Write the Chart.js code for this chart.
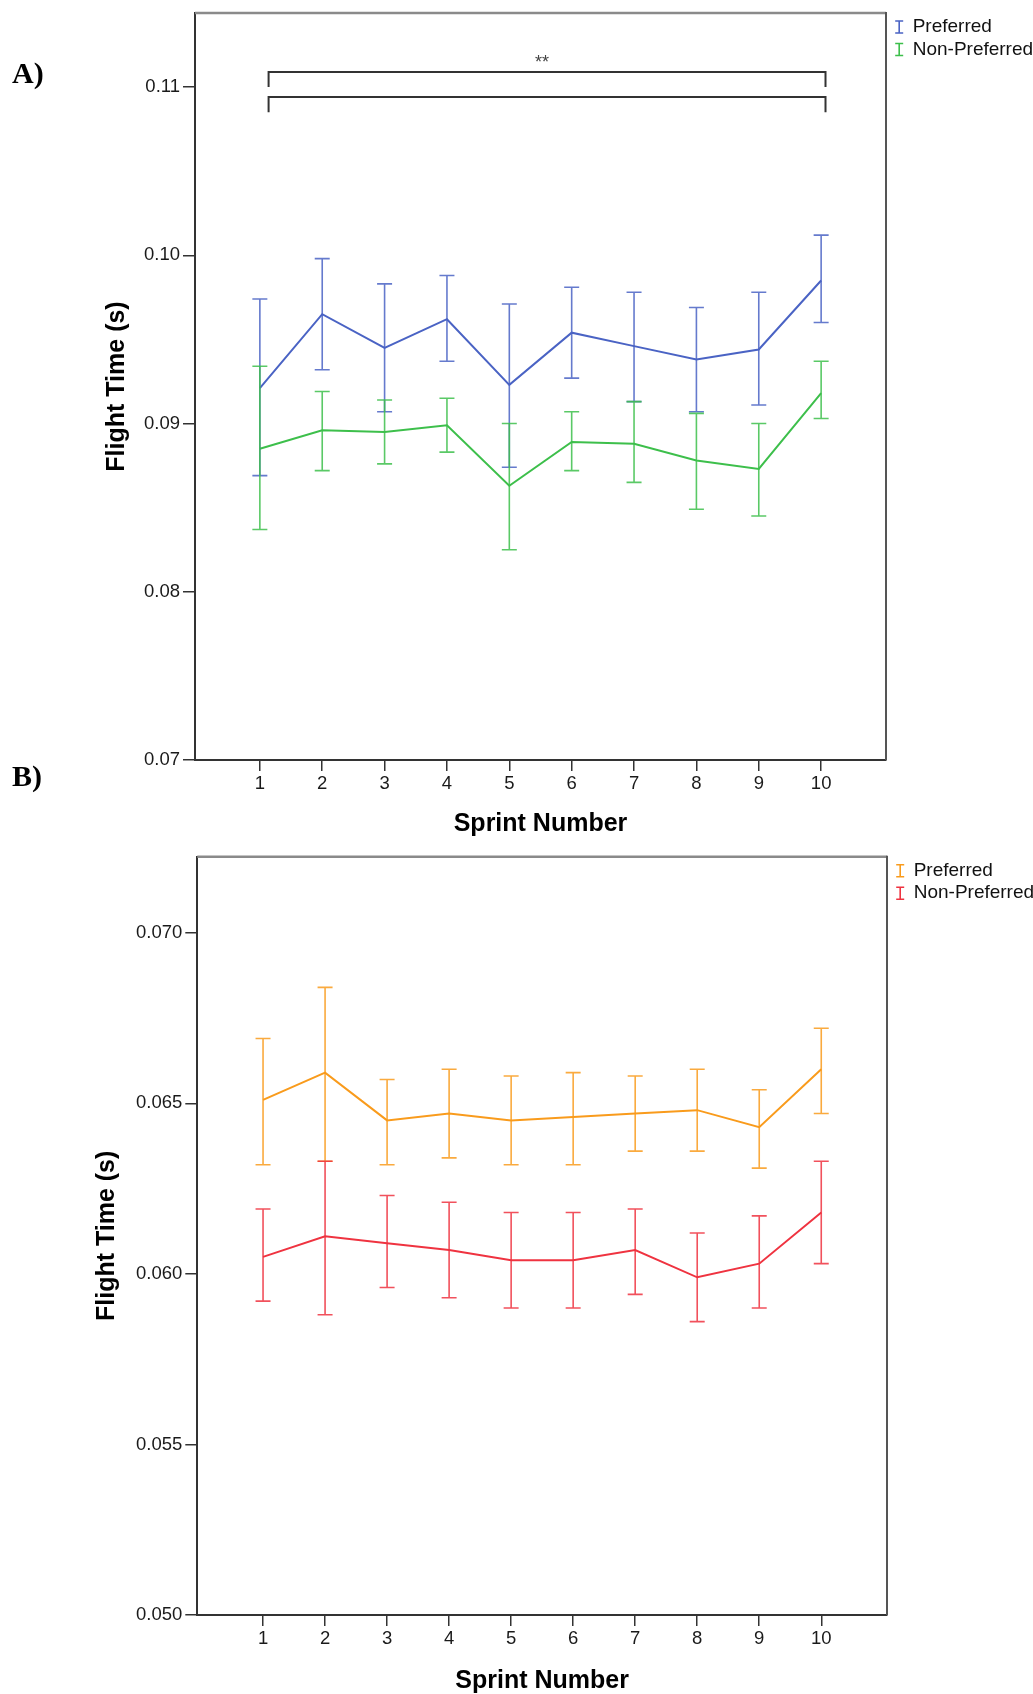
<!DOCTYPE html>
<html>
<head>
<meta charset="utf-8">
<script src="https://cdn.jsdelivr.net/npm/chart.js@4.4.1/dist/chart.umd.min.js"></script>
<style>
  body { margin: 0; background: #fff; }
  #page { position: relative; width: 1033px; height: 1694px; }
  canvas { position: absolute; left: 0; }
  #chartA { top: 0; }
  #chartB { top: 840px; }
  .panel { position: absolute; left: 12px; font: bold 30px "Liberation Serif", "Times New Roman", serif; line-height: 30px; color: #000; }
</style>
</head>
<body>
<div id="page">
  <canvas id="chartA" width="1033" height="840"></canvas>
  <canvas id="chartB" width="1033" height="854"></canvas>
  <div class="panel" style="top:58px">A)</div>
  <div class="panel" style="top:761px">B)</div>
</div>
<script>
// sprint numbers (x axis)
var sprints = [1, 2, 3, 4, 5, 6, 7, 8, 9, 10];

// panel A - flight time, means and error bar ends
var prefA   = [0.0921, 0.0965, 0.0945, 0.0962, 0.0923, 0.0954, 0.0946, 0.0938, 0.0944, 0.0985];
var prefAHi = [0.0974, 0.0998, 0.0983, 0.0988, 0.0971, 0.0981, 0.0978, 0.0969, 0.0978, 0.1012];
var prefALo = [0.0869, 0.0932, 0.0907, 0.0937, 0.0874, 0.0927, 0.0913, 0.0907, 0.0911, 0.0960];
var nonA    = [0.0885, 0.0896, 0.0895, 0.0899, 0.0863, 0.0889, 0.0888, 0.0878, 0.0873, 0.0918];
var nonAHi  = [0.0934, 0.0919, 0.0914, 0.0915, 0.0900, 0.0907, 0.0913, 0.0906, 0.0900, 0.0937];
var nonALo  = [0.0837, 0.0872, 0.0876, 0.0883, 0.0825, 0.0872, 0.0865, 0.0849, 0.0845, 0.0903];
var yTicksA = [0.07, 0.08, 0.09, 0.10, 0.11];
var yTickLabelsA = ['0.07', '0.08', '0.09', '0.10', '0.11'];

// significance brackets in panel A (data units)
var bracketSpan = [1.14, 10.07];
var bracketLevels = [0.1109, 0.1094];
var bracketDrop = 0.0009;
var sigLabel = '**';

// panel B
var prefB   = [0.0651, 0.0659, 0.0645, 0.0647, 0.0645, 0.0646, 0.0647, 0.0648, 0.0643, 0.0660];
var prefBHi = [0.0669, 0.0684, 0.0657, 0.0660, 0.0658, 0.0659, 0.0658, 0.0660, 0.0654, 0.0672];
var prefBLo = [0.0632, 0.0633, 0.0632, 0.0634, 0.0632, 0.0632, 0.0636, 0.0636, 0.0631, 0.0647];
var nonB    = [0.0605, 0.0611, 0.0609, 0.0607, 0.0604, 0.0604, 0.0607, 0.0599, 0.0603, 0.0618];
var nonBHi  = [0.0619, 0.0633, 0.0623, 0.0621, 0.0618, 0.0618, 0.0619, 0.0612, 0.0617, 0.0633];
var nonBLo  = [0.0592, 0.0588, 0.0596, 0.0593, 0.0590, 0.0590, 0.0594, 0.0586, 0.0590, 0.0603];
var yTicksB = [0.050, 0.055, 0.060, 0.065, 0.070];
var yTickLabelsB = ['0.050', '0.055', '0.060', '0.065', '0.070'];

Chart.defaults.font.family = '"Liberation Sans", Arial, sans-serif';
Chart.defaults.color = '#1a1a1a';

function points(vals) {
    return sprints.map(function(s, i) { return {x: s, y: vals[i]}; });
}

function series(label, color, vals, lo, hi) {
    return {
        label: label,
        data: points(vals),
        lo: lo,
        hi: hi,
        borderColor: color,
        backgroundColor: color,
        borderWidth: 2,
        pointRadius: 0,
        tension: 0,
        fill: false
    };
}

// error bars with caps
var errorBars = {
    id: 'errorBars',
    afterDatasetsDraw: function(chart) {
        var ctx = chart.ctx, x = chart.scales.x, y = chart.scales.y;
        chart.data.datasets.forEach(function(ds) {
            ctx.save();
            ctx.strokeStyle = ds.borderColor;
            ctx.globalAlpha = 0.85;
            ctx.lineWidth = 1.6;
            ds.data.forEach(function(p, i) {
                var px = x.getPixelForValue(p.x);
                var t = y.getPixelForValue(ds.hi[i]);
                var b = y.getPixelForValue(ds.lo[i]);
                ctx.beginPath();
                ctx.moveTo(px, t); ctx.lineTo(px, b);
                ctx.moveTo(px - 7.5, t); ctx.lineTo(px + 7.5, t);
                ctx.moveTo(px - 7.5, b); ctx.lineTo(px + 7.5, b);
                ctx.stroke();
            });
            ctx.restore();
        });
    }
};

// top/right frame and legend at the right side
var frameLegend = {
    id: 'frameLegend',
    afterDraw: function(chart) {
        var ctx = chart.ctx, a = chart.chartArea;
        ctx.save();
        ctx.strokeStyle = '#8a8a8a';
        ctx.lineWidth = 2.5;
        ctx.beginPath();
        ctx.moveTo(a.left, a.top); ctx.lineTo(a.right, a.top);
        ctx.stroke();
        ctx.strokeStyle = '#555';
        ctx.lineWidth = 2;
        ctx.beginPath();
        ctx.moveTo(a.right, a.top - 1); ctx.lineTo(a.right, a.bottom);
        ctx.stroke();

        ctx.font = '19px "Liberation Sans", Arial, sans-serif';
        ctx.textBaseline = 'middle';
        chart.data.datasets.forEach(function(ds, i) {
            var ry = a.top + 14 + i * 22.5;
            var mx = a.right + 13.2;
            ctx.strokeStyle = ds.borderColor;
            ctx.lineWidth = 1.6;
            ctx.beginPath();
            ctx.moveTo(mx, ry - 6); ctx.lineTo(mx, ry + 6);
            ctx.moveTo(mx - 4, ry - 6); ctx.lineTo(mx + 4, ry - 6);
            ctx.moveTo(mx - 4, ry + 6); ctx.lineTo(mx + 4, ry + 6);
            ctx.stroke();
            ctx.fillStyle = '#111';
            ctx.fillText(ds.label, a.right + 26.7, ry);
        });
        ctx.restore();
    }
};

// significance brackets (only panel A)
var brackets = {
    id: 'brackets',
    afterDraw: function(chart, args, opts) {
        if (!opts.levels) return;
        var ctx = chart.ctx, x = chart.scales.x, y = chart.scales.y;
        var x1 = x.getPixelForValue(opts.span[0]);
        var x2 = x.getPixelForValue(opts.span[1]);
        ctx.save();
        ctx.strokeStyle = '#333';
        ctx.lineWidth = 2;
        opts.levels.forEach(function(lv) {
            var yt = y.getPixelForValue(lv);
            var yb = y.getPixelForValue(lv - opts.drop);
            ctx.beginPath();
            ctx.moveTo(x1, yb); ctx.lineTo(x1, yt); ctx.lineTo(x2, yt); ctx.lineTo(x2, yb);
            ctx.stroke();
        });
        ctx.fillStyle = '#444';
        ctx.font = '18px "Liberation Sans", Arial, sans-serif';
        ctx.textAlign = 'center';
        ctx.textBaseline = 'middle';
        ctx.fillText(opts.label, (x1 + x2) / 2 - 5, y.getPixelForValue(opts.levels[0]) - 9);
        ctx.restore();
    }
};

function makeChart(id, datasets, cfg) {
    return new Chart(document.getElementById(id), {
        type: 'line',
        data: {datasets: datasets},
        plugins: [errorBars, frameLegend, brackets],
        options: {
            responsive: false,
            animation: false,
            devicePixelRatio: 1,
            layout: {padding: {left: 0, top: cfg.top, right: cfg.right, bottom: 0}},
            plugins: {
                legend: {display: false},
                tooltip: {enabled: false},
                brackets: cfg.brackets || {}
            },
            scales: {
                x: {
                    type: 'linear',
                    min: cfg.xMin,
                    max: cfg.xMax,
                    afterBuildTicks: function(s) {
                        s.ticks = sprints.map(function(v) { return {value: v}; });
                    },
                    afterFit: function(s) {
                        s.height = cfg.xHeight;
                        s.paddingLeft = 0;
                        s.paddingRight = 0;
                    },
                    ticks: {
                        autoSkip: false,
                        maxRotation: 0,
                        padding: 2,
                        font: {size: 18.5},
                        callback: function(v) { return String(v); }
                    },
                    grid: {drawOnChartArea: false, drawTicks: true, tickLength: 11, color: '#333', lineWidth: 1.5},
                    border: {display: true, color: '#333', width: 2},
                    title: {
                        display: true,
                        text: 'Sprint Number',
                        color: '#000',
                        font: {size: 25, weight: 'bold', lineHeight: 1},
                        padding: {top: 0, bottom: cfg.xTitlePad}
                    }
                },
                y: {
                    type: 'linear',
                    min: cfg.yMin,
                    max: cfg.yMax,
                    afterBuildTicks: function(s) {
                        s.ticks = cfg.yTicks.map(function(v) { return {value: v}; });
                    },
                    afterFit: function(s) {
                        s.width = cfg.yWidth;
                        s.paddingTop = 0;
                        s.paddingBottom = 0;
                    },
                    ticks: {
                        padding: 3,
                        font: {size: 18.5},
                        callback: function(v, i) { return cfg.yLabels[i]; }
                    },
                    grid: {drawOnChartArea: false, drawTicks: true, tickLength: 12, color: '#333', lineWidth: 1.5},
                    border: {display: true, color: '#333', width: 2},
                    title: {
                        display: true,
                        text: 'Flight Time (s)',
                        color: '#000',
                        font: {size: 25, weight: 'bold', lineHeight: 1},
                        padding: {top: cfg.yTitlePad, bottom: 0}
                    }
                }
            }
        }
    });
}

makeChart('chartA', [
    series('Preferred', '#4a63c4', prefA, prefALo, prefAHi),
    series('Non-Preferred', '#3dbf4b', nonA, nonALo, nonAHi)
], {
    top: 13, right: 147, xMin: -0.04, xMax: 11.04, xHeight: 80, xTitlePad: 3.5,
    yMin: 0.07, yMax: 0.1144, yTicks: yTicksA, yLabels: yTickLabelsA, yWidth: 195, yTitlePad: 104.5,
    brackets: {span: bracketSpan, levels: bracketLevels, drop: bracketDrop, label: sigLabel}
});

makeChart('chartB', [
    series('Preferred', '#f99b1c', prefB, prefBLo, prefBHi),
    series('Non-Preferred', '#ef3340', nonB, nonBLo, nonBHi)
], {
    top: 16.7, right: 146, xMin: -0.06, xMax: 11.06, xHeight: 79, xTitlePad: 0,
    yMin: 0.05, yMax: 0.07223, yTicks: yTicksB, yLabels: yTickLabelsB, yWidth: 197.3, yTitlePad: 95
});
</script>
</body>
</html>
